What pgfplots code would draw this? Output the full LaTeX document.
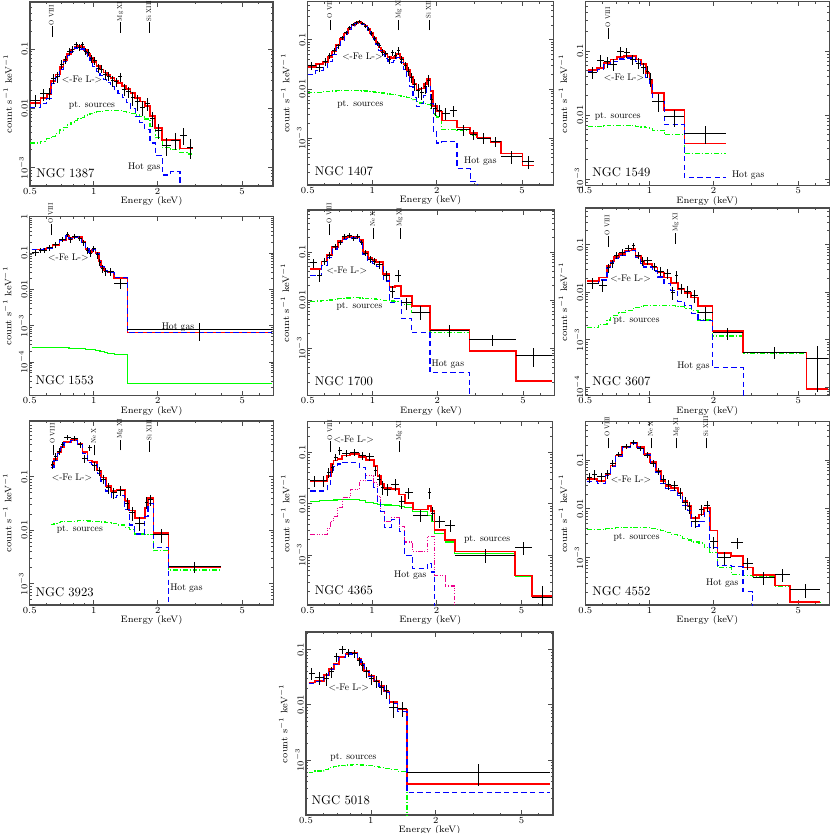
\documentclass[border=0pt]{standalone}
\usepackage{pgfplots}
\usepackage{pgfplotstable}
\pgfplotsset{compat=1.18}

% columns: lo hi (bin edges, keV), d e (data, error), m (total model), h (hot gas), p (point sources)
\pgfplotstableread{
lo hi d e m h p
0.50 0.56 0.0135 0.003 0.0123 0.0102 0.0026
0.56 0.60 0.0175 0.004 0.0148 0.0122 0.0028
0.60 0.63 0.018 0.004 0.0175 0.0146 0.0031
0.63 0.66 0.032 0.006 0.029 0.0258 0.0034
0.66 0.69 0.034 0.007 0.037 0.033 0.0038
0.69 0.72 0.055 0.009 0.050 0.0455 0.0043
0.72 0.75 0.066 0.010 0.066 0.061 0.0048
0.75 0.78 0.092 0.012 0.083 0.078 0.0053
0.78 0.81 0.100 0.013 0.098 0.092 0.0058
0.81 0.84 0.118 0.014 0.110 0.104 0.0063
0.84 0.87 0.108 0.014 0.113 0.106 0.0067
0.87 0.90 0.117 0.014 0.107 0.100 0.0071
0.90 0.93 0.090 0.012 0.096 0.088 0.0075
0.93 0.96 0.089 0.012 0.084 0.076 0.0078
0.96 0.99 0.068 0.010 0.072 0.064 0.0081
0.99 1.03 0.063 0.009 0.060 0.0515 0.0084
1.03 1.07 0.047 0.008 0.051 0.042 0.0087
1.07 1.11 0.046 0.007 0.045 0.036 0.0089
1.11 1.15 0.037 0.007 0.040 0.031 0.0091
1.15 1.20 0.035 0.006 0.036 0.027 0.0092
1.20 1.25 0.029 0.006 0.032 0.023 0.0092
1.25 1.30 0.028 0.005 0.029 0.020 0.0092
1.30 1.36 0.034 0.006 0.027 0.018 0.0091
1.36 1.42 0.021 0.005 0.024 0.0152 0.0089
1.42 1.49 0.019 0.004 0.021 0.0124 0.0086
1.49 1.57 0.015 0.004 0.018 0.0098 0.0082
1.57 1.65 0.013 0.004 0.015 0.0074 0.0077
1.65 1.74 0.0105 0.003 0.013 0.0058 0.0072
1.74 1.84 0.012 0.003 0.0108 0.0044 0.0066
1.84 1.95 0.0068 0.002 0.0075 0.0026 0.0050
1.95 2.10 0.0042 0.0012 0.0047 0.0016 0.0032
2.10 2.30 0.0024 0.0008 0.0029 0.00075 0.0022
2.30 2.55 0.0029 0.0009 0.0029 0.00085 0.0020
2.55 2.75 0.0035 0.0011 0.0021 1e-7 0.0018
2.75 2.95 0.0022 0.0008 0.0021 1e-7 0.0017
2.95 2.95 nan 0 0.0021 1e-7 0.0017
}\TA

\pgfplotstableread{
lo hi d e m h p
0.50 0.545 0.030 0.006 0.028 0.020 0.0084
0.545 0.59 0.027 0.005 0.032 0.024 0.0086
0.59 0.62 0.036 0.006 0.035 0.027 0.0088
0.62 0.65 0.048 0.007 0.044 0.036 0.0090
0.65 0.68 0.060 0.008 0.058 0.050 0.0091
0.68 0.71 0.075 0.009 0.078 0.069 0.0092
0.71 0.74 0.110 0.011 0.105 0.096 0.0093
0.74 0.77 0.140 0.013 0.135 0.126 0.0094
0.77 0.80 0.175 0.015 0.170 0.161 0.0094
0.80 0.83 0.205 0.016 0.200 0.191 0.0094
0.83 0.86 0.220 0.017 0.222 0.213 0.0093
0.86 0.89 0.235 0.018 0.227 0.218 0.0093
0.89 0.92 0.215 0.017 0.215 0.206 0.0092
0.92 0.95 0.190 0.016 0.192 0.183 0.0091
0.95 0.98 0.165 0.015 0.165 0.156 0.0090
0.98 1.01 0.135 0.013 0.138 0.129 0.0088
1.01 1.04 0.105 0.012 0.112 0.103 0.0087
1.04 1.07 0.085 0.011 0.088 0.079 0.0086
1.07 1.10 0.078 0.010 0.070 0.061 0.0084
1.10 1.14 0.055 0.009 0.060 0.051 0.0083
1.14 1.18 0.052 0.008 0.050 0.042 0.0081
1.18 1.22 0.040 0.007 0.045 0.037 0.0079
1.22 1.26 0.055 0.008 0.043 0.035 0.0078
1.26 1.30 0.048 0.008 0.046 0.038 0.0076
1.30 1.35 0.060 0.012 0.052 0.044 0.0074
1.35 1.40 0.040 0.007 0.042 0.035 0.0072
1.40 1.45 0.030 0.006 0.032 0.025 0.0070
1.45 1.50 0.023 0.005 0.024 0.0175 0.0068
1.50 1.55 0.017 0.004 0.0175 0.0112 0.0064
1.55 1.61 0.0125 0.0035 0.0128 0.0068 0.0060
1.61 1.67 0.0095 0.003 0.0098 0.0044 0.0055
1.67 1.74 0.0085 0.0025 0.0102 0.0050 0.0052
1.74 1.80 0.0110 0.003 0.0125 0.0075 0.0050
1.80 1.87 0.0150 0.004 0.0160 0.0112 0.0048
1.87 1.93 0.0060 0.002 0.0090 0.0050 0.0040
1.93 2.00 0.0040 0.0012 0.0045 0.0014 0.0031
2.00 2.11 0.0037 0.0010 0.0035 0.0008 0.0027
2.11 2.30 0.0032 0.0009 0.0023 0.00085 0.0015
2.30 2.49 0.0036 0.0009 0.0023 0.00085 0.0015
2.49 2.87 0.0015 0.0004 0.00166 0.00024 0.00142
2.87 3.09 0.0012 0.0003 0.00127 0.00013 0.00115
3.09 3.57 0.00100 0.00025 0.00103 1e-7 0.00100
3.57 3.98 0.00085 0.0002 0.00085 1e-7 0.00083
3.98 5.03 0.00042 0.00012 0.00049 1e-7 0.00048
5.03 5.70 0.00034 0.00010 0.00028 1e-7 0.000275
5.70 5.70 nan 0 0.00028 1e-7 0.000275
}\TB

\pgfplotstableread{
lo hi d e m h p
0.515 0.568 0.046 0.010 0.051 0.048 0.0066
0.568 0.61 0.072 0.015 0.0545 0.051 0.0067
0.61 0.656 0.068 0.014 0.0655 0.061 0.0068
0.656 0.706 0.062 0.013 0.074 0.069 0.0069
0.706 0.76 0.098 0.017 0.080 0.075 0.0069
0.76 0.81 0.094 0.016 0.083 0.078 0.0069
0.81 0.862 0.074 0.014 0.083 0.078 0.0068
0.862 0.91 0.065 0.013 0.074 0.068 0.0067
0.91 0.96 0.055 0.011 0.062 0.055 0.0065
0.96 1.00 0.048 0.010 0.0455 0.039 0.0063
1.00 1.03 0.036 0.009 0.036 0.030 0.0061
1.03 1.174 0.0163 0.005 0.022 0.0165 0.0058
1.174 1.46 0.0094 0.0028 0.012 0.0071 0.0050
1.46 2.29 0.0051 0.0016 0.0036 0.00105 0.0025
2.29 2.29 nan 0 0.0036 0.00105 0.0025
}\TC

\pgfplotstableread{
lo hi d e m h p
0.51 0.55 0.105 0.02 0.125 0.1248 2.5e-4
0.55 0.58 0.12 0.02 0.125 0.1248 2.5e-4
0.58 0.60 0.12 0.02 0.130 0.1298 2.5e-4
0.60 0.64 0.14 0.025 0.137 0.1368 2.5e-4
0.64 0.69 0.17 0.03 0.169 0.1688 2.5e-4
0.69 0.74 0.24 0.04 0.223 0.2228 2.45e-4
0.74 0.765 0.32 0.05 0.295 0.2948 2.45e-4
0.765 0.79 0.23 0.04 0.249 0.2488 2.4e-4
0.79 0.84 0.29 0.045 0.27 0.2698 2.4e-4
0.84 0.88 0.25 0.04 0.28 0.2798 2.35e-4
0.88 0.915 0.19 0.035 0.20 0.1998 2.3e-4
0.915 0.95 0.12 0.025 0.13 0.1298 2.25e-4
0.95 0.985 0.10 0.02 0.106 0.1058 2.2e-4
0.985 1.02 0.13 0.025 0.125 0.1248 2.2e-4
1.02 1.06 0.09 0.02 0.10 0.0998 2.1e-4
1.06 1.08 0.055 0.012 0.060 0.0598 2.0e-4
1.08 1.12 0.038 0.009 0.042 0.0418 1.9e-4
1.12 1.16 0.032 0.008 0.033 0.0328 1.85e-4
1.16 1.25 0.031 0.007 0.029 0.0288 1.75e-4
1.25 1.44 0.0145 0.0045 0.021 0.0208 1.6e-4
1.44 6.9 7.9e-4 4.2e-4 6.5e-4 6.45e-4 2.5e-5
6.9 6.9 nan 0 6.5e-4 6.45e-4 2.5e-5
}\TD

\pgfplotstableread{
lo hi d e m h p
0.515 0.55 0.060 0.013 0.0445 0.032 0.0095
0.55 0.58 0.033 0.009 0.0445 0.032 0.0096
0.58 0.615 0.065 0.012 0.0635 0.053 0.0098
0.615 0.65 0.085 0.014 0.0878 0.077 0.0101
0.65 0.69 0.13 0.018 0.127 0.116 0.0104
0.69 0.725 0.16 0.02 0.168 0.157 0.0107
0.725 0.76 0.21 0.025 0.195 0.184 0.0109
0.76 0.80 0.22 0.025 0.205 0.194 0.0111
0.80 0.835 0.19 0.022 0.207 0.196 0.0112
0.835 0.87 0.21 0.025 0.205 0.194 0.0112
0.87 0.90 0.16 0.02 0.176 0.165 0.0111
0.90 0.95 0.095 0.014 0.100 0.089 0.0110
0.95 1.00 0.07 0.012 0.0747 0.064 0.0108
1.00 1.04 0.065 0.011 0.068 0.058 0.0106
1.04 1.12 0.055 0.010 0.0615 0.051 0.0103
1.12 1.20 0.033 0.008 0.0349 0.025 0.0099
1.20 1.27 0.0155 0.0045 0.0185 0.0090 0.0096
1.27 1.36 0.033 0.009 0.0198 0.011 0.0093
1.36 1.52 0.0088 0.0025 0.0122 0.0042 0.0080
1.52 1.85 0.0056 0.0018 0.0077 0.0021 0.0056
1.85 2.82 0.0024 0.0007 0.0024 0.00031 0.0021
2.82 4.63 0.0015 0.0004 0.00087 1e-7 0.00085
4.63 6.8 0.0007 0.0003 0.00021 1e-7 0.000205
6.8 6.8 nan 0 0.00021 1e-7 0.000205
}\TE

\pgfplotstableread{
lo hi d e m h p
0.51 0.578 0.0155 0.004 0.0174 0.0155 0.0018
0.578 0.632 0.0141 0.004 0.0205 0.0181 0.0021
0.632 0.656 0.033 0.007 0.0363 0.033 0.0026
0.656 0.68 0.040 0.008 0.0463 0.043 0.0029
0.68 0.718 0.059 0.010 0.0546 0.051 0.0033
0.718 0.77 0.070 0.011 0.0643 0.060 0.0037
0.77 0.83 0.085 0.012 0.0757 0.071 0.0042
0.83 0.86 0.097 0.014 0.0822 0.077 0.0045
0.86 0.91 0.060 0.010 0.058 0.053 0.0048
0.91 0.94 0.045 0.009 0.046 0.041 0.0050
0.94 1.03 0.046 0.008 0.0393 0.034 0.0052
1.03 1.09 0.035 0.007 0.0334 0.028 0.0053
1.09 1.17 0.028 0.006 0.0261 0.021 0.0053
1.17 1.26 0.025 0.006 0.0205 0.0152 0.0053
1.26 1.32 0.0098 0.003 0.0155 0.0107 0.0052
1.32 1.36 0.022 0.006 0.0155 0.0107 0.0051
1.36 1.46 0.012 0.003 0.0115 0.0065 0.0050
1.46 1.57 0.0105 0.003 0.0098 0.0052 0.0046
1.57 1.69 0.0085 0.0025 0.0077 0.0036 0.0041
1.69 1.98 0.0037 0.0012 0.0051 0.0025 0.0026
1.98 2.76 0.0014 0.0004 0.0015 0.00026 0.0012
2.76 5.46 0.00054 0.00015 0.00054 1e-7 0.00051
5.46 6.9 0.0004 0.00032 0.000092 1e-7 0.00009
6.9 6.9 nan 0 0.000092 1e-7 0.00009
}\TF

\pgfplotstableread{
lo hi d e m h p
0.627 0.65 0.17 0.03 0.162 0.149 0.0130
0.65 0.675 0.24 0.04 0.216 0.202 0.0135
0.675 0.70 0.30 0.045 0.289 0.275 0.0140
0.70 0.725 0.40 0.05 0.36 0.346 0.0143
0.725 0.78 0.55 0.06 0.45 0.436 0.0146
0.78 0.84 0.52 0.06 0.483 0.468 0.0148
0.84 0.885 0.40 0.05 0.417 0.402 0.0150
0.885 0.935 0.22 0.04 0.289 0.274 0.0150
0.935 0.98 0.35 0.05 0.201 0.186 0.0149
0.98 1.04 0.16 0.03 0.187 0.172 0.0147
1.04 1.08 0.13 0.025 0.13 0.116 0.0145
1.08 1.14 0.09 0.018 0.097 0.083 0.0142
1.14 1.21 0.062 0.014 0.0675 0.054 0.0138
1.21 1.28 0.05 0.012 0.0542 0.041 0.0134
1.28 1.40 0.055 0.012 0.0566 0.044 0.0125
1.40 1.47 0.032 0.008 0.035 0.024 0.0112
1.47 1.56 0.021 0.006 0.0233 0.0125 0.0105
1.56 1.74 0.0135 0.004 0.0169 0.0085 0.0085
1.74 1.80 0.033 0.008 0.0262 0.018 0.0082
1.80 1.91 0.037 0.009 0.0394 0.031 0.0082
1.91 2.25 0.0082 0.0025 0.0088 0.0047 0.0041
2.25 3.95 0.0021 0.0005 0.00205 1e-7 0.0018
3.95 3.95 nan 0 0.00205 1e-7 0.0018
}\TG

\pgfplotstableread{
lo hi d e m h p g
0.515 0.565 0.028 0.007 0.0277 0.0176 0.0112 0.0025
0.565 0.617 0.028 0.007 0.0277 0.0176 0.0113 0.0025
0.617 0.64 0.040 0.009 0.0348 0.0238 0.0115 0.0033
0.64 0.66 0.050 0.010 0.059 0.044 0.0117 0.0045
0.66 0.69 0.080 0.014 0.0686 0.052 0.0118 0.0057
0.69 0.725 0.108 0.018 0.074 0.059 0.0119 0.0083
0.725 0.79 0.095 0.015 0.086 0.064 0.0120 0.013
0.79 0.87 0.100 0.015 0.093 0.064 0.0119 0.019
0.87 0.935 0.085 0.014 0.0798 0.0507 0.0113 0.0277
0.935 1.02 0.082 0.014 0.0707 0.0277 0.0106 0.0348
1.02 1.06 0.045 0.010 0.0547 0.0205 0.0101 0.0257
1.06 1.10 0.030 0.008 0.035 0.0105 0.0098 0.014
1.10 1.14 0.021 0.006 0.0238 0.0071 0.0096 0.0071
1.14 1.23 0.019 0.005 0.0199 0.0034 0.0094 0.0045
1.23 1.34 0.024 0.006 0.019 0.0049 0.0091 0.0053
1.34 1.42 0.0108 0.003 0.0151 0.0029 0.0088 0.0036
1.42 1.55 0.0163 0.004 0.0104 0.0010 0.0083 0.0018
1.55 1.82 0.0059 0.0015 0.0077 0.00054 0.0071 0.00117
1.82 1.89 0.0163 0.004 0.0089 0.00069 0.0058 0.0023
1.89 1.96 0.0065 0.002 0.0071 0.00047 0.0045 0.0023
1.96 2.2 0.0045 0.0012 0.0031 1e-7 0.0026 0.0004
2.2 2.44 0.0038 0.0010 0.00198 1e-7 0.0018 0.00025
2.44 4.68 0.0010 0.0003 0.00117 1e-7 0.00107 1e-7
4.68 5.6 0.0014 0.0004 0.0004 1e-7 0.00039 1e-7
5.6 6.95 0.00015 0.0001 0.00016 1e-7 0.000155 1e-7
6.95 6.95 nan 0 0.00016 1e-7 0.000155 1e-7
}\TH

\pgfplotstableread{
lo hi d e m h p
0.509 0.54 0.043 0.010 0.0405 0.0355 0.0037
0.54 0.568 0.050 0.011 0.0405 0.0355 0.0037
0.568 0.621 0.045 0.010 0.0374 0.033 0.0038
0.621 0.656 0.052 0.011 0.0513 0.047 0.0039
0.656 0.693 0.085 0.014 0.0763 0.072 0.0040
0.693 0.745 0.13 0.018 0.123 0.119 0.0041
0.745 0.816 0.19 0.022 0.183 0.179 0.0042
0.816 0.877 0.23 0.025 0.225 0.221 0.0042
0.877 0.94 0.17 0.020 0.183 0.179 0.0042
0.94 1.01 0.125 0.017 0.133 0.129 0.0041
1.01 1.07 0.085 0.013 0.0895 0.085 0.0040
1.07 1.13 0.058 0.010 0.060 0.056 0.0038
1.13 1.19 0.040 0.008 0.037 0.033 0.0036
1.19 1.26 0.031 0.007 0.0294 0.026 0.0033
1.26 1.36 0.030 0.007 0.0263 0.0235 0.0030
1.36 1.43 0.021 0.005 0.0214 0.0187 0.0028
1.43 1.51 0.0135 0.004 0.0144 0.0119 0.0025
1.51 1.57 0.011 0.003 0.0114 0.0091 0.0023
1.57 1.71 0.0055 0.0015 0.0065 0.0044 0.0021
1.71 1.81 0.0095 0.0025 0.0076 0.0056 0.0020
1.81 1.92 0.0115 0.003 0.0105 0.0089 0.0016
1.92 2.09 0.0021 0.0006 0.0036 0.0016 0.0013
2.09 2.42 0.0010 0.0003 0.00123 0.00068 0.00063
2.42 2.75 0.0020 0.0005 0.0011 0.00065 0.00046
2.75 3.06 0.00077 0.0002 0.00063 0.0002 0.00043
3.06 3.89 0.00039 0.00011 0.00044 1e-7 0.00042
3.89 4.56 0.00045 0.00013 0.00027 1e-7 0.00026
4.56 6.35 0.00022 0.00007 0.000123 1e-7 0.00012
6.35 6.35 nan 0 0.000123 1e-7 0.00012
}\TI

\pgfplotstableread{
lo hi d e m h p
0.514 0.55 0.037 0.009 0.0254 0.0248 0.0006
0.55 0.605 0.031 0.008 0.0272 0.0265 0.00063
0.605 0.638 0.030 0.008 0.0351 0.0344 0.00068
0.638 0.673 0.040 0.009 0.0447 0.044 0.00072
0.673 0.71 0.075 0.014 0.0552 0.0545 0.00076
0.71 0.763 0.10 0.016 0.0733 0.0725 0.00079
0.763 0.82 0.090 0.015 0.0844 0.0836 0.00081
0.82 0.866 0.085 0.014 0.0868 0.086 0.00082
0.866 0.90 0.063 0.012 0.0683 0.0675 0.00082
0.90 0.93 0.052 0.011 0.0552 0.0545 0.00081
0.93 0.98 0.040 0.009 0.0416 0.0408 0.00080
0.98 1.035 0.030 0.007 0.0337 0.033 0.00078
1.035 1.09 0.027 0.007 0.027 0.0263 0.00075
1.09 1.155 0.021 0.006 0.022 0.0213 0.00072
1.155 1.22 0.018 0.005 0.0174 0.0167 0.00070
1.22 1.33 0.0088 0.003 0.0112 0.0105 0.00068
1.33 1.47 0.0086 0.0025 0.0082 0.0076 0.00061
1.47 6.8 0.0006 0.00026 0.00036 0.00026 1e-7
6.8 6.8 nan 0 0.00036 0.00026 1e-7
}\TJ

\newcommand{\sz}[1]{\fontsize{#1}{#1}\selectfont}
\tikzset{
  lid/.style={rotate=90, anchor=west, inner sep=0pt, scale=0.5, font=\sz{10}},
  lbl/.style={inner sep=0pt, scale=0.72, font=\sz{10}},
  ngc/.style={inner sep=0pt, anchor=base west, font=\sz{9.5}},
}
\pgfplotsset{
  every axis/.append style={
    scale only axis,
    xmin=0.5, xmax=7,
    xtick={0.5,1,2,5}, xticklabels={$0.5$,$1$,$2$,$5$},
    minor xtick={0.6,0.7,0.8,0.9,3,4,6,7},
    minor ytick={2e-6,3e-6,4e-6,5e-6,6e-6,7e-6,8e-6,9e-6,2e-5,3e-5,4e-5,5e-5,6e-5,7e-5,8e-5,9e-5,2e-4,3e-4,4e-4,5e-4,6e-4,7e-4,8e-4,9e-4,2e-3,3e-3,4e-3,5e-3,6e-3,7e-3,8e-3,9e-3,0.02,0.03,0.04,0.05,0.06,0.07,0.08,0.09,0.2,0.3,0.4,0.5,0.6,0.7,0.8,0.9},
    tick align=inside, major tick length=3.5pt, minor tick length=1.8pt,
    axis line style={black!70, line width=0.9pt},
    tick style={black!70, line width=0.55pt},
    tick label style={font=\sz{7}},
    yticklabel style={rotate=90, anchor=south, inner sep=1.5pt},
    xticklabel style={inner sep=1.5pt},
    xlabel={Energy (keV)},
    ylabel={count s$^{-1}$ keV$^{-1}$},
    xlabel style={font=\sz{7}, at={(axis description cs:0.5,-0.085)}, anchor=center},
    ylabel style={font=\sz{7}, at={(axis description cs:-0.092,0.5)}, anchor=center},
    clip mode=individual,
  },
  NGCnoerr/.style={error bars/x dir=none, error bars/y dir=none},
  NGCred/.style={NGCnoerr, red, line width=1.3pt, const plot mark left},
  NGCblue/.style={NGCnoerr, blue, line width=0.85pt, dash pattern=on 4pt off 2.5pt, const plot mark left},
  NGCgreen/.style={NGCnoerr, green, line width=0.85pt, dash pattern=on 3.5pt off 1.5pt on 0.8pt off 1.5pt, const plot mark left},
  NGCgreensolid/.style={NGCnoerr, green, line width=0.85pt, const plot mark left},
  NGCmag/.style={NGCnoerr, magenta, line width=0.85pt, dash pattern=on 3.5pt off 1.2pt on 0.7pt off 1.2pt on 0.7pt off 1.2pt on 0.7pt off 1.2pt, const plot mark left},
}
\newcommand{\dataplot}[1]{\addplot[black, line width=0.75pt, only marks, mark=*, mark size=0pt,
  mark options={draw=none, fill=none},
  error bars/.cd, x dir=both, x explicit, y dir=both, y explicit, error mark=none,
  error bar style={black, line width=0.75pt}]
  table[x expr={sqrt(\thisrow{lo}*\thisrow{hi})}, y=d,
  x error plus expr={\thisrow{hi}-sqrt(\thisrow{lo}*\thisrow{hi})},
  x error minus expr={sqrt(\thisrow{lo}*\thisrow{hi})-\thisrow{lo}},
  y error=e] {#1};}
\newcommand{\lineid}[3]{\node[lid] at (axis cs:#1,#2) {\rule[0.5ex]{16pt}{0.7pt}\,#3};}
\newcommand{\FeL}{\textless-Fe L-\textgreater}

\begin{document}
\begin{tikzpicture}
\useasboundingbox (0,0) rectangle (622.5pt,624.75pt);

% NGC 1387
\begin{loglogaxis}[anchor=south west, at={(22.5pt,485.25pt)}, width=182.25pt, height=138pt,
  ymin=4.9e-4, ymax=0.62, ytick={0.001,0.01,0.1}, yticklabels={$10^{-3}$,$0.01$,$0.1$}]
\addplot[NGCgreen] table[x=lo,y=p]{\TA};
\addplot[NGCred] table[x=lo,y=m]{\TA};
\addplot[NGCblue] table[x=lo,y=h]{\TA};
\dataplot{\TA}
\lineid{0.63}{0.158}{O VIII}
\lineid{1.334}{0.186}{Mg XI}
\lineid{1.82}{0.186}{Si XIII}
\node[lbl] at (axis cs:0.88,0.031) {\FeL};
\node[lbl] at (axis cs:0.98,0.0113) {pt. sources};
\node[lbl] at (axis cs:1.73,1.02e-3) {Hot gas};
\node[ngc] at (axis description cs:0.025,0.048) {NGC 1387};
\end{loglogaxis}

% NGC 1407
\begin{loglogaxis}[anchor=south west, at={(230.8pt,486pt)}, width=184.1pt, height=137.6pt,
  ymin=1.12e-4, ymax=0.60, ytick={0.001,0.01,0.1}, yticklabels={$10^{-3}$,$0.01$,$0.1$}]
\addplot[NGCgreen] table[x=lo,y=p]{\TB};
\addplot[NGCred] table[x=lo,y=m]{\TB};
\addplot[NGCblue] table[x=lo,y=h]{\TB};
\dataplot{\TB}
\lineid{0.633}{0.156}{O VIII}
\lineid{1.33}{0.156}{Mg XI}
\lineid{1.83}{0.156}{Si XIII}
\node[lbl] at (axis cs:0.90,0.0455) {\FeL};
\node[lbl] at (axis cs:0.88,0.0048) {pt. sources};
\node[lbl] at (axis cs:3.2,3.4e-4) {Hot gas};
\node[ngc] at (axis description cs:0.028,0.052) {NGC 1407};
\end{loglogaxis}

% NGC 1549
\begin{loglogaxis}[anchor=south west, at={(439pt,485.55pt)}, width=183pt, height=138.1pt,
  ymin=7.9e-4, ymax=0.595, ytick={0.001,0.01,0.1}, yticklabels={$10^{-3}$,$0.01$,$0.1$}]
\addplot[NGCgreen] table[x=lo,y=p]{\TC};
\addplot[NGCred] table[x=lo,y=m]{\TC};
\addplot[NGCblue] table[x=lo,y=h]{\TC};
\dataplot{\TC}
\lineid{0.637}{0.153}{O VIII}
\node[lbl] at (axis cs:0.76,0.039) {\FeL};
\node[lbl] at (axis cs:0.71,0.0094) {pt. sources};
\node[lbl] at (axis cs:2.91,1.15e-3) {Hot gas};
\node[ngc] at (axis description cs:0.028,0.047) {NGC 1549};
\end{loglogaxis}

% NGC 1553
\begin{loglogaxis}[anchor=south west, at={(22.3pt,328.05pt)}, width=182.7pt, height=134.1pt,
  ymin=1.18e-5, ymax=1.0, ytick={0.0001,0.001,0.01,0.1,1}, yticklabels={$10^{-4}$,$10^{-3}$,$0.01$,$0.1$,$1$}]
\addplot[NGCgreensolid] table[x=lo,y=p]{\TD};
\addplot[NGCred] table[x=lo,y=m]{\TD};
\addplot[NGCblue] table[x=lo,y=h]{\TD};
\dataplot{\TD}
\lineid{0.626}{0.31}{O VIII}
\node[lbl] at (axis cs:0.76,0.0766) {\FeL};
\node[lbl] at (axis cs:2.49,9.1e-4) {Hot gas};
\node[ngc] at (axis description cs:0.023,0.06) {NGC 1553};
\end{loglogaxis}

% NGC 1700
\begin{loglogaxis}[anchor=south west, at={(230.8pt,328.05pt)}, width=185pt, height=139.2pt,
  ymin=1.04e-4, ymax=0.75, ytick={0.001,0.01,0.1}, yticklabels={$10^{-3}$,$0.01$,$0.1$}]
\addplot[NGCgreen] table[x=lo,y=p]{\TE};
\addplot[NGCred] table[x=lo,y=m]{\TE};
\addplot[NGCblue] table[x=lo,y=h]{\TE};
\dataplot{\TE}
\lineid{0.628}{0.225}{O VIII}
\lineid{1.0}{0.19}{Ne X}
\lineid{1.34}{0.19}{Mg XI}
\node[lbl] at (axis cs:0.76,0.041) {\FeL};
\node[lbl] at (axis cs:0.87,0.0073) {pt. sources};
\node[lbl] at (axis cs:2.24,4.6e-4) {Hot gas};
\node[ngc] at (axis description cs:0.028,0.055) {NGC 1700};
\end{loglogaxis}

% NGC 3607
\begin{loglogaxis}[anchor=south west, at={(439pt,328.05pt)}, width=183pt, height=140.7pt,
  ymin=6.65e-5, ymax=0.595, ytick={0.0001,0.001,0.01,0.1}, yticklabels={$10^{-4}$,$10^{-3}$,$0.01$,$0.1$}]
\addplot[NGCgreen] table[x=lo,y=p]{\TF};
\addplot[NGCred] table[x=lo,y=m]{\TF};
\addplot[NGCblue] table[x=lo,y=h]{\TF};
\dataplot{\TF}
\lineid{0.633}{0.089}{O VIII}
\lineid{1.33}{0.105}{Mg XI}
\node[lbl] at (axis cs:0.816,0.0195) {\FeL};
\node[lbl] at (axis cs:0.87,0.0026) {pt. sources};
\node[lbl] at (axis cs:1.61,2.7e-4) {Hot gas};
\node[ngc] at (axis description cs:0.028,0.054) {NGC 3607};
\end{loglogaxis}

% NGC 3923
\begin{loglogaxis}[anchor=south west, at={(22.3pt,171pt)}, width=182.7pt, height=138pt,
  ymin=4.0e-4, ymax=1.10, ytick={0.001,0.01,0.1}, yticklabels={$10^{-3}$,$0.01$,$0.1$}]
\addplot[NGCgreen] table[x=lo,y=p]{\TG};
\addplot[NGCred] table[x=lo,y=m]{\TG};
\addplot[NGCblue] table[x=lo,y=h]{\TG};
\dataplot{\TG}
\lineid{0.638}{0.25}{O VIII}
\lineid{1.0}{0.25}{Ne X}
\lineid{1.33}{0.31}{Mg XI}
\lineid{1.82}{0.29}{Si XIII}
\node[lbl] at (axis cs:0.79,0.097) {\FeL};
\node[lbl] at (axis cs:0.86,0.0102) {pt. sources};
\node[lbl] at (axis cs:2.73,8.2e-4) {Hot gas};
\node[ngc] at (axis description cs:0.023,0.046) {NGC 3923};
\end{loglogaxis}

% NGC 4365
\begin{loglogaxis}[anchor=south west, at={(230.8pt,171pt)}, width=183.75pt, height=137.4pt,
  ymin=1.07e-4, ymax=0.39, ytick={0.001,0.01,0.1}, yticklabels={$10^{-3}$,$0.01$,$0.1$}]
\addplot[NGCgreensolid] table[x=lo,y=p]{\TH};
\addplot[NGCmag] table[x=lo,y=g]{\TH};
\addplot[NGCred] table[x=lo,y=m]{\TH};
\addplot[NGCblue] table[x=lo,y=h]{\TH};
\dataplot{\TH}
\lineid{0.635}{0.1}{O VIII}
\lineid{1.34}{0.1}{Mg XI}
\node[lbl] at (axis cs:0.82,0.18) {\FeL};
\node[lbl] at (axis cs:3.45,0.00197) {pt. sources};
\node[lbl] at (axis cs:1.51,4.1e-4) {Hot gas};
\node[ngc] at (axis description cs:0.028,0.055) {NGC 4365};
\end{loglogaxis}

% NGC 4552
\begin{loglogaxis}[anchor=south west, at={(439pt,171pt)}, width=183pt, height=137.4pt,
  ymin=1.08e-4, ymax=0.60, ytick={0.001,0.01,0.1}, yticklabels={$10^{-3}$,$0.01$,$0.1$}]
\addplot[NGCgreen] table[x=lo,y=p]{\TI};
\addplot[NGCred] table[x=lo,y=m]{\TI};
\addplot[NGCblue] table[x=lo,y=h]{\TI};
\dataplot{\TI}
\lineid{0.633}{0.17}{O VIII}
\lineid{1.01}{0.17}{Ne X}
\lineid{1.34}{0.17}{Mg XI}
\lineid{1.84}{0.17}{Si XIII}
\node[lbl] at (axis cs:0.82,0.039) {\FeL};
\node[lbl] at (axis cs:0.87,0.0026) {pt. sources};
\node[lbl] at (axis cs:2.2,2.95e-4) {Hot gas};
\node[ngc] at (axis description cs:0.028,0.051) {NGC 4552};
\end{loglogaxis}

% NGC 5018
\begin{loglogaxis}[anchor=south west, at={(229.5pt,13.5pt)}, width=185.25pt, height=137.25pt,
  ymin=1.0e-4, ymax=0.21, ytick={0.001,0.01,0.1}, yticklabels={$10^{-3}$,$0.01$,$0.1$}]
\addplot[NGCgreen] table[x=lo,y=p]{\TJ};
\addplot[NGCred] table[x=lo,y=m]{\TJ};
\addplot[NGCblue] table[x=lo,y=h]{\TJ};
\dataplot{\TJ}
\node[lbl] at (axis cs:0.79,0.0205) {\FeL};
\node[lbl] at (axis cs:0.83,1.13e-3) {pt. sources};
\node[ngc] at (axis description cs:0.022,0.06) {NGC 5018};
\end{loglogaxis}

\end{tikzpicture}
\end{document}
